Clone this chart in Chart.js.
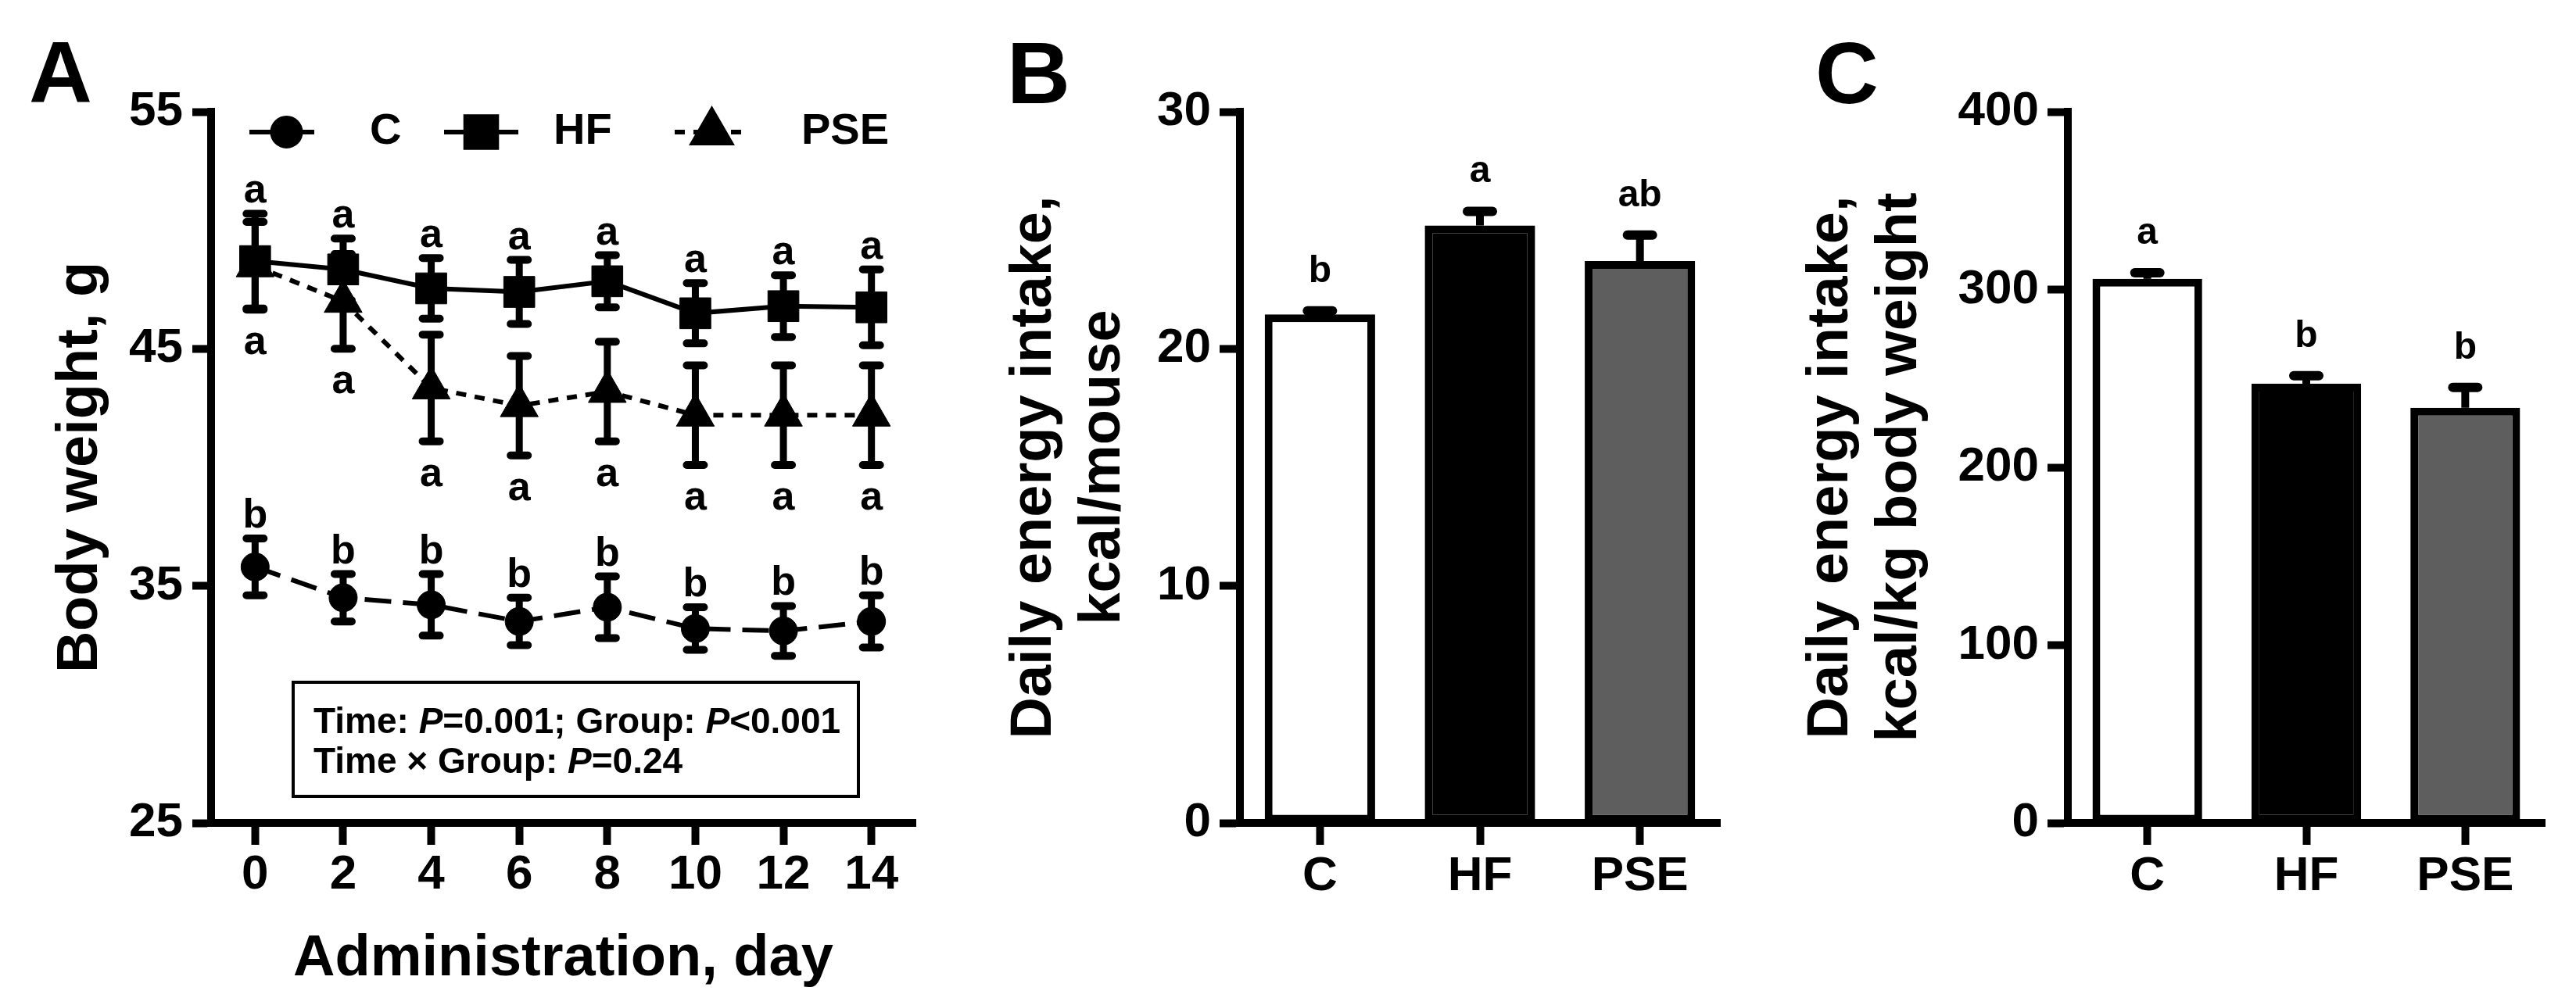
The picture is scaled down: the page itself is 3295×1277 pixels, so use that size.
<!DOCTYPE html>
<html><head><meta charset="utf-8">
<script src="https://cdn.jsdelivr.net/npm/chart.js@4.4.1/dist/chart.umd.min.js"></script>
<style>
html,body{margin:0;padding:0;background:#fff;width:3295px;height:1277px;overflow:hidden}
canvas{position:absolute;top:0}
</style></head><body>
<canvas id="cA" style="left:0px;width:1200px;height:1277px" width="1200" height="1277"></canvas>
<canvas id="cB" style="left:1200px;width:1050px;height:1277px" width="1050" height="1277"></canvas>
<canvas id="cC" style="left:2250px;width:1045px;height:1277px" width="1045" height="1277"></canvas>
<script>
// ---------- data ----------
const days = ['0','2','4','6','8','10','12','14'];
const cWeight      = [35.8, 34.5, 34.2, 33.5, 34.1, 33.2, 33.1, 33.5];
const cWeightErr   = [1.2, 1.0, 1.3, 1.0, 1.3, 0.9, 1.05, 1.1];
const hfWeight     = [48.7, 48.35, 47.55, 47.4, 47.85, 46.5, 46.8, 46.75];
const hfWeightErr  = [2.0, 1.3, 1.28, 1.35, 1.1, 1.27, 1.3, 1.6];
const pseWeight    = [48.5, 47.0, 43.35, 42.6, 43.2, 42.2, 42.2, 42.2];
const pseWeightErr = [1.85, 2.0, 2.25, 2.1, 2.1, 2.1, 2.1, 2.1];
const cWeightLetters   = ['b','b','b','b','b','b','b','b'];
const hfWeightLetters  = ['a','a','a','a','a','a','a','a'];
const pseWeightLetters = ['a','a','a','a','a','a','a','a'];

const groups = ['C','HF','PSE'];
const intakeMouse        = [21.45, 25.2, 23.7];
const intakeMouseErr     = [0.15, 0.6, 1.1];
const intakeMouseLetters = ['b','a','ab'];
const intakeKg           = [306, 247, 233.5];
const intakeKgErr        = [3.5, 4.5, 11.5];
const intakeKgLetters    = ['a','b','b'];

const weightRange = [25, 55, 10];
const mouseRange  = [0, 30, 10];
const kgRange     = [0, 400, 100];

// ---------- plugins ----------
const FONT = '"Liberation Sans", Arial, sans-serif';
Chart.defaults.font.family = FONT;
Chart.defaults.color = '#000';

const errorBarPlugin = {
  id: 'errorBars',
  beforeDatasetsDraw(chart, args, opts) {
    const ctx = chart.ctx, yS = chart.scales.y;
    chart.data.datasets.forEach((ds, i) => {
      if (!ds.errors) return;
      const meta = chart.getDatasetMeta(i);
      meta.data.forEach((el, j) => {
        const v = ds.data[j], e = ds.errors[j], x = el.x;
        const yT = yS.getPixelForValue(v + e);
        const yB = yS.getPixelForValue(opts.upOnly ? v : v - e);
        ctx.save();
        ctx.strokeStyle = '#000';
        ctx.lineWidth = opts.lineWidth; ctx.lineCap = 'butt';
        ctx.beginPath(); ctx.moveTo(x, yT); ctx.lineTo(x, yB); ctx.stroke();
        ctx.lineWidth = opts.capWidth; ctx.lineCap = 'round';
        ctx.beginPath();
        ctx.moveTo(x - opts.capHalf, yT); ctx.lineTo(x + opts.capHalf, yT);
        if (!opts.upOnly) { ctx.moveTo(x - opts.capHalf, yB); ctx.lineTo(x + opts.capHalf, yB); }
        ctx.stroke();
        ctx.restore();
      });
    });
  },
  afterDatasetsDraw(chart, args, opts) {
    const ctx = chart.ctx, yS = chart.scales.y;
    ctx.save();
    ctx.font = opts.letterFont || ('bold 50px ' + FONT);
    ctx.fillStyle = '#000'; ctx.textAlign = 'center'; ctx.textBaseline = 'alphabetic';
    chart.data.datasets.forEach((ds, i) => {
      if (!ds.letters) return;
      const meta = chart.getDatasetMeta(i);
      meta.data.forEach((el, j) => {
        const v = ds.data[j], e = ds.errors[j];
        const y = ds.letterSide === 'below'
          ? yS.getPixelForValue(v - e) + opts.belowGap
          : yS.getPixelForValue(v + e) - opts.aboveGap;
        ctx.fillText(ds.letters[j], el.x, y);
      });
    });
    ctx.restore();
  }
};

const seriesKeyPlugin = {
  id: 'seriesKey',
  afterDraw(chart, args, opts) {
    if (!opts.items) return;
    const ctx = chart.ctx;
    chart.data.datasets.forEach((ds, i) => {
      const it = opts.items[i];
      ctx.save();
      ctx.strokeStyle = '#000'; ctx.fillStyle = '#000';
      ctx.lineWidth = ds.borderWidth; ctx.setLineDash(ds.borderDash || []);
      ctx.beginPath(); ctx.moveTo(it.x, opts.y); ctx.lineTo(it.x + opts.sampleLen, opts.y); ctx.stroke();
      ctx.setLineDash([]);
      Chart.helpers.drawPoint(ctx, {pointStyle: ds.pointStyle, radius: ds.pointRadius, borderWidth: 1, rotation: 0},
        it.x + opts.sampleLen / 2, opts.y);
      ctx.font = opts.font; ctx.textBaseline = 'middle'; ctx.textAlign = 'left';
      ctx.fillText(ds.label, it.textX, opts.y);
      ctx.restore();
    });
  }
};

const noteBoxPlugin = {
  id: 'noteBox',
  afterDraw(chart, args, opts) {
    if (!opts.lines) return;
    const ctx = chart.ctx;
    ctx.save();
    ctx.lineWidth = opts.borderWidth; ctx.strokeStyle = '#000';
    ctx.strokeRect(opts.x, opts.y, opts.w, opts.h);
    ctx.fillStyle = '#000'; ctx.textBaseline = 'alphabetic'; ctx.textAlign = 'left';
    opts.lines.forEach((segs, li) => {
      let x = opts.x + opts.padX;
      const y = opts.y + opts.firstBaseline + li * opts.lineGap;
      segs.forEach(s => {
        ctx.font = (s.italic ? 'italic ' : '') + 'bold ' + opts.size + 'px ' + FONT;
        ctx.fillText(s.t, x, y);
        x += ctx.measureText(s.t).width;
      });
    });
    ctx.restore();
  }
};

const panelLabelPlugin = {
  id: 'panelLabel',
  afterDraw(chart, args, opts) {
    if (!opts.text) return;
    const ctx = chart.ctx;
    ctx.save();
    ctx.font = 'bold ' + opts.size + 'px ' + FONT;
    ctx.fillStyle = '#000'; ctx.textAlign = 'left'; ctx.textBaseline = 'alphabetic';
    ctx.fillText(opts.text, opts.x, opts.y);
    ctx.restore();
  }
};

Chart.register(errorBarPlugin, seriesKeyPlugin, noteBoxPlugin, panelLabelPlugin);

// ---------- shared axis styles ----------
function axisGrid(len) {
  return {display: true, drawOnChartArea: false, drawTicks: true, tickLength: len, tickWidth: 10, tickColor: '#000', offset: false};
}
const axisBorder = {display: true, width: 10, color: '#000'};
const tickFont = {size: 62, weight: 'bold', family: FONT};
const titleFont = {size: 74, weight: 'bold', family: FONT, lineHeight: 1.19};

// ---------- Panel A ----------
new Chart(document.getElementById('cA'), {
  type: 'line',
  data: {
    labels: days,
    datasets: [
      {label: 'C', data: cWeight, errors: cWeightErr, letters: cWeightLetters, letterSide: 'above',
       borderColor: '#000', backgroundColor: '#000', borderWidth: 6, borderDash: [34, 15],
       pointStyle: 'circle', pointRadius: 18, pointBorderWidth: 1, tension: 0},
      {label: 'HF', data: hfWeight, errors: hfWeightErr, letters: hfWeightLetters, letterSide: 'above',
       borderColor: '#000', backgroundColor: '#000', borderWidth: 6, borderDash: [],
       pointStyle: 'rect', pointRadius: 28, pointBorderWidth: 1, tension: 0},
      {label: 'PSE', data: pseWeight, errors: pseWeightErr, letters: pseWeightLetters, letterSide: 'below',
       borderColor: '#000', backgroundColor: '#000', borderWidth: 6, borderDash: [13, 11],
       pointStyle: 'triangle', pointRadius: 28, pointBorderWidth: 1, tension: 0}
    ]
  },
  options: {
    responsive: false, animation: false, devicePixelRatio: 1,
    layout: {padding: {top: 143, right: 19, bottom: 5, left: 60}},
    plugins: {
      legend: {display: false}, tooltip: {enabled: false},
      errorBars: {upOnly: false, lineWidth: 9, capWidth: 10, capHalf: 11,
                  letterFont: 'bold 52px ' + FONT, aboveGap: 14, belowGap: 57},
      seriesKey: {y: 169, sampleLen: 95, font: 'bold 56px ' + FONT,
                  items: [{x: 319, textX: 473}, {x: 568, textX: 708}, {x: 863, textX: 1025}]},
      noteBox: {x: 375, y: 873, w: 723, h: 146, borderWidth: 4, padX: 26, firstBaseline: 65, lineGap: 51, size: 46,
        lines: [
          [{t: 'Time: '}, {t: 'P', italic: true}, {t: '=0.001; Group: '}, {t: 'P', italic: true}, {t: '<0.001'}],
          [{t: 'Time \u00d7 Group: '}, {t: 'P', italic: true}, {t: '=0.24'}]
        ]},
      panelLabel: {text: 'A', x: 37, y: 131, size: 112}
    },
    scales: {
      x: {
        offset: true,
        grid: axisGrid(28), border: axisBorder,
        ticks: {font: tickFont, color: '#000', padding: 2, maxRotation: 0},
        title: {display: true, text: 'Administration, day', font: titleFont, color: '#000', padding: 0},
        afterFit(s) { s.height = 219; }
      },
      y: {
        min: weightRange[0], max: weightRange[1],
        grid: axisGrid(24), border: axisBorder,
        ticks: {stepSize: weightRange[2], font: tickFont, color: '#000', padding: 12},
        title: {display: true, text: 'Body weight, g', font: titleFont, color: '#000', padding: 0},
        afterFit(s) { s.width = 210; }
      }
    }
  }
});

// ---------- Panels B and C ----------
function barChart(id, values, errs, letters, range, yTitle, padLeft, yWidth, padRight, label, labelX) {
  return new Chart(document.getElementById(id), {
    type: 'bar',
    data: {
      labels: groups,
      datasets: [{
        label: label, data: values, errors: errs, letters: letters, letterSide: 'above',
        backgroundColor: ['#ffffff', '#000000', '#5e5e5e'], borderColor: '#000', borderWidth: 10,
        borderSkipped: false, barPercentage: 0.69, categoryPercentage: 1
      }]
    },
    options: {
      responsive: false, animation: false, devicePixelRatio: 1,
      layout: {padding: {top: 143, right: padRight, bottom: 0, left: padLeft}},
      plugins: {
        legend: {display: false}, tooltip: {enabled: false},
        errorBars: {upOnly: true, lineWidth: 10, capWidth: 12, capHalf: 16,
                    letterFont: 'bold 48px ' + FONT, aboveGap: 37},
        panelLabel: {text: label, x: labelX, y: 132, size: 112}
      },
      scales: {
        x: {
          grid: axisGrid(28), border: axisBorder,
          ticks: {font: tickFont, color: '#000', padding: 4},
          afterFit(s) { s.height = 224; }
        },
        y: {
          min: range[0], max: range[1],
          grid: axisGrid(26), border: axisBorder,
          ticks: {stepSize: range[2], font: tickFont, color: '#000', padding: 11},
          title: {display: true, text: yTitle, font: titleFont, color: '#000', padding: 0},
          afterFit(s) { s.width = yWidth; }
        }
      }
    }
  });
}

barChart('cB', intakeMouse, intakeMouseErr, intakeMouseLetters, mouseRange,
  ['Daily energy intake,', 'kcal/mouse'], 80, 306, 50, 'B', 88);
barChart('cC', intakeKg, intakeKgErr, intakeKgLetters, kgRange,
  ['Daily energy intake,', 'kcal/kg body weight'], 49, 346, 40, 'C', 72);
</script>
</body></html>
